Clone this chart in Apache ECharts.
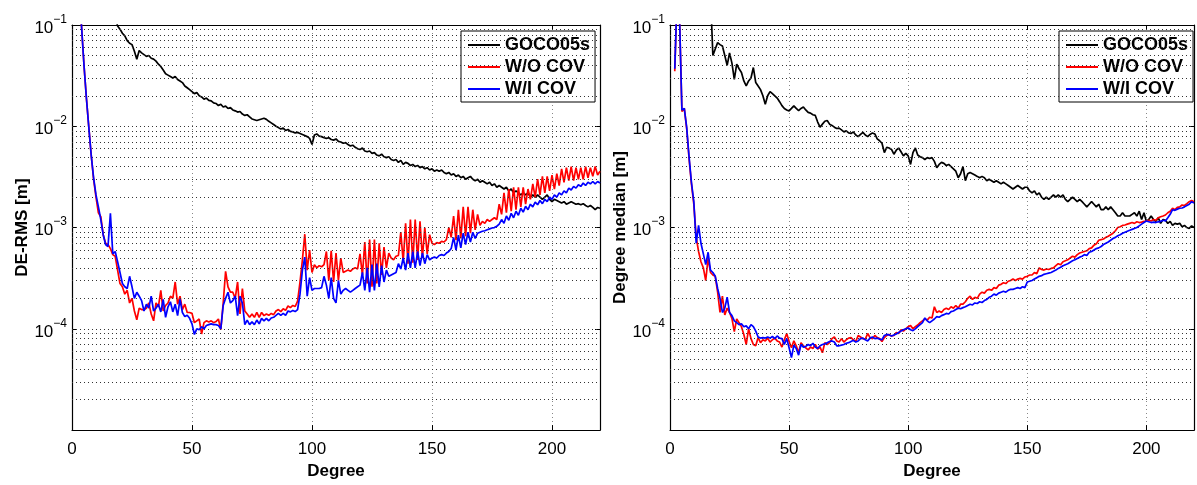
<!DOCTYPE html>
<html><head><meta charset="utf-8">
<script src="https://cdn.jsdelivr.net/npm/echarts@6/dist/echarts.min.js"></script>
<style>html,body{margin:0;padding:0;background:#fff}#c{width:1197px;height:485px}</style>
</head><body><div id="c"></div>
<script>
const FONT = "'Liberation Sans', Arial, Helvetica, sans-serif";
const seriesNames = ['GOCO05s', 'W/O COV', 'W/I COV'];
const seriesColors = ['#000000', '#ff0000', '#0000ff'];
const xTickValues = [0, 50, 100, 150, 200];
const yDecades = [1e-5, 1e-4, 1e-3, 1e-2];
const yMantissas = [1, 2, 3, 4, 5, 6, 7, 8, 9];

// ---- Left panel: DE-RMS [m] ----
const leftBlackStart = 17;
const leftBlack = [
0.16,0.12,0.098,0.091,0.083,0.078,0.070,0.066,0.064,0.055,
0.046,0.056,0.053,0.051,0.049,0.050,0.047,0.046,0.044,0.041,
0.039,0.036,0.033,0.032,0.031,0.030,0.031,0.029,0.028,0.027,
0.025,0.024,0.023,0.022,0.021,0.0215,0.020,0.0195,0.0185,0.019,
0.018,0.0178,0.017,0.0168,0.016,0.0165,0.0155,0.0158,0.015,0.0153,
0.0145,0.0142,0.0138,0.014,0.0132,0.0128,0.013,0.0124,0.0118,0.0116,
0.0114,0.0116,0.0118,0.0120,0.0117,0.0112,0.0108,0.0104,0.0100,0.0097,
0.0094,0.0096,0.0091,0.0093,0.0089,0.0088,0.0086,0.0087,0.0085,0.0083,
0.0081,0.0079,0.0076,0.0066,0.0082,0.0084,0.0080,0.0079,0.0077,0.0076,
0.0077,0.0074,0.0073,0.0075,0.0071,0.0070,0.0068,0.0069,0.0066,0.0064,
0.0065,0.0062,0.0060,0.0059,0.0061,0.0057,0.0056,0.0057,0.0054,0.0055,
0.0052,0.0051,0.0053,0.0050,0.0049,0.0050,0.0047,0.0046,0.0047,0.0044,
0.0046,0.0042,0.0044,0.0043,0.0041,0.0042,0.0040,0.0041,0.0039,0.0040,
0.0038,0.0039,0.0037,0.0038,0.0036,0.0037,0.0036,0.0037,0.0035,0.0034,
0.0035,0.0033,0.0034,0.0032,0.0033,0.0031,0.0032,0.0030,0.0031,0.0032,
0.0030,0.0029,0.0030,0.0028,0.0029,0.0028,0.0027,0.0028,0.0026,0.0027,
0.0025,0.0026,0.0025,0.0024,0.0025,0.0023,0.0024,0.0022,0.0023,0.0022,
0.0021,0.0022,0.0021,0.0022,0.0020,0.0021,0.0020,0.0021,0.0020,0.0019,
0.0020,0.0021,0.0019,0.0018,0.0019,0.00185,0.0018,0.00175,0.0018,0.0017,
0.00175,0.0018,0.00175,0.0017,0.00172,0.00168,0.00172,0.00165,0.0016,0.00165,
0.00158,0.0015,0.00158,0.00155
];
const leftRedStart = 3;
const leftRed = [
0.2,0.095,0.040,0.019,0.0098,0.0052,0.0030,0.0020,
1.4e-3,1.28e-3,8.5e-4,7.0e-4,6.8e-4,6.2e-4,5.4e-4,5.2e-4,3.8e-4,2.8e-4,
2.6e-4,2.2e-4,2.4e-4,1.8e-4,2.0e-4,1.5e-4,1.23e-4,1.6e-4,1.55e-4,1.55e-4,
1.6e-4,1.8e-4,1.4e-4,1.2e-4,1.8e-4,1.65e-4,2.4e-4,1.5e-4,1.7e-4,1.8e-4,
2.1e-4,2.0e-4,2.9e-4,1.75e-4,2.1e-4,1.55e-4,1.75e-4,1.45e-4,1.45e-4,1.42e-4,
1.15e-4,1.2e-4,1.25e-4,8.9e-5,1.15e-4,1.2e-4,1.17e-4,1.2e-4,1.15e-4,1.18e-4,
1.25e-4,9.8e-5,1.8e-4,3.7e-4,2.6e-4,2.3e-4,2.3e-4,2.0e-4,2.9e-4,1.4e-4,
2.5e-4,1.5e-4,1.4e-4,1.3e-4,1.4e-4,1.3e-4,1.45e-4,1.3e-4,1.45e-4,1.35e-4,
1.4e-4,1.36e-4,1.42e-4,1.38e-4,1.5e-4,1.55e-4,1.48e-4,1.58e-4,1.52e-4,1.68e-4,
1.62e-4,1.7e-4,1.66e-4,1.88e-4,2.9e-4,4.8e-4,8.6e-4,3.8e-4,6.0e-4,3.6e-4,
4.3e-4,4.0e-4,4.2e-4,4.1e-4,4.3e-4,5.8e-4,3.0e-4,5.9e-4,2.9e-4,5.6e-4,
3.0e-4,5.0e-4,3.6e-4,3.7e-4,3.8e-4,3.7e-4,3.9e-4,4.0e-4,3.9e-4,5.5e-4,
3.4e-4,7.2e-4,2.8e-4,7.6e-4,2.6e-4,7.6e-4,2.8e-4,7.0e-4,3.4e-4,6.4e-4,
4.0e-4,5.6e-4,5.0e-4,4.8e-4,5.2e-4,5.3e-4,9.0e-4,4.6e-4,1.1e-3,4.4e-4,
1.2e-3,4.5e-4,1.2e-3,4.8e-4,1.15e-3,5.0e-4,1.0e-3,5.5e-4,8.5e-4,7.0e-4,
6.8e-4,7.1e-4,7.0e-4,7.3e-4,7.2e-4,7.6e-4,1.0e-3,8.0e-4,1.3e-3,7.5e-4,
1.5e-3,7.8e-4,1.6e-3,8.2e-4,1.6e-3,8.8e-4,1.5e-3,9.5e-4,1.35e-3,1.05e-3,
1.15e-3,1.1e-3,1.2e-3,1.15e-3,1.2e-3,1.25e-3,1.2e-3,1.7e-3,1.35e-3,2.2e-3,
1.4e-3,2.4e-3,1.45e-3,2.5e-3,1.5e-3,2.5e-3,1.6e-3,2.5e-3,1.7e-3,2.4e-3,
1.9e-3,2.7e-3,2.0e-3,3.0e-3,2.1e-3,3.2e-3,2.2e-3,3.2e-3,2.3e-3,3.3e-3,
2.4e-3,3.4e-3,2.6e-3,3.8e-3,2.8e-3,3.9e-3,2.9e-3,4.0e-3,2.9e-3,3.9e-3,
3.0e-3,3.9e-3,3.0e-3,4.0e-3,3.1e-3,3.9e-3,3.2e-3,4.0e-3,3.3e-3,3.6e-3
];
const leftBlueStart = 3;
const leftBlue = [
0.2,0.095,0.040,0.019,0.0098,0.0052,0.0031,0.0021,
1.6e-3,1.2e-3,8.5e-4,6.8e-4,6.5e-4,1.38e-3,5.5e-4,5.8e-4,4.6e-4,3.6e-4,
2.8e-4,2.6e-4,2.5e-4,3.3e-4,2.6e-4,2.0e-4,2.3e-4,2.1e-4,1.9e-4,1.5e-4,
1.75e-4,1.6e-4,2.1e-4,1.5e-4,1.6e-4,1.75e-4,1.47e-4,1.95e-4,1.3e-4,1.65e-4,
1.85e-4,1.47e-4,1.75e-4,1.35e-4,1.95e-4,1.45e-4,1.32e-4,1.36e-4,1.27e-4,1.12e-4,
8.8e-5,1.0e-4,9.8e-5,1.05e-4,1.0e-4,1.08e-4,1.1e-4,1.12e-4,1.1e-4,1.1e-4,
1.08e-4,1.0e-4,1.7e-4,2.0e-4,2.3e-4,1.8e-4,1.9e-4,2.1e-4,1.35e-4,2.1e-4,
1.8e-4,1.1e-4,1.22e-4,1.1e-4,1.17e-4,1.1e-4,1.22e-4,1.12e-4,1.27e-4,1.2e-4,
1.27e-4,1.2e-4,1.28e-4,1.3e-4,1.36e-4,1.42e-4,1.36e-4,1.42e-4,1.36e-4,1.5e-4,
1.47e-4,1.52e-4,1.48e-4,1.55e-4,2.2e-4,3.8e-4,5.1e-4,2.1e-4,3.2e-4,2.4e-4,
2.5e-4,2.5e-4,2.5e-4,2.55e-4,3.3e-4,2.7e-4,2.0e-4,3.2e-4,2.0e-4,1.8e-4,
3.0e-4,2.2e-4,2.4e-4,2.5e-4,2.4e-4,2.3e-4,2.4e-4,2.5e-4,2.6e-4,2.7e-4,
3.6e-4,2.4e-4,4.0e-4,2.3e-4,4.3e-4,2.4e-4,4.4e-4,2.6e-4,4.2e-4,2.9e-4,
3.8e-4,3.3e-4,3.4e-4,3.5e-4,3.6e-4,4.4e-4,3.9e-4,5.0e-4,3.8e-4,5.6e-4,
4.0e-4,5.8e-4,4.0e-4,5.8e-4,4.2e-4,5.6e-4,4.4e-4,5.4e-4,4.8e-4,5.0e-4,
5.1e-4,5.0e-4,5.3e-4,5.4e-4,5.3e-4,5.6e-4,5.8e-4,6.2e-4,8.0e-4,6.0e-4,
8.4e-4,6.3e-4,8.8e-4,6.8e-4,9.0e-4,7.2e-4,9.0e-4,7.8e-4,8.8e-4,9.0e-4,
9.2e-4,9.3e-4,9.5e-4,9.7e-4,9.9e-4,1.0e-3,1.03e-3,1.08e-3,1.2e-3,1.1e-3,
1.3e-3,1.18e-3,1.38e-3,1.25e-3,1.45e-3,1.32e-3,1.55e-3,1.42e-3,1.62e-3,1.5e-3,
1.7e-3,1.6e-3,1.78e-3,1.68e-3,1.85e-3,1.72e-3,1.9e-3,1.8e-3,2.0e-3,1.9e-3,
2.1e-3,2.0e-3,2.2e-3,2.1e-3,2.3e-3,2.2e-3,2.45e-3,2.35e-3,2.55e-3,2.45e-3,
2.65e-3,2.55e-3,2.75e-3,2.6e-3,2.8e-3,2.7e-3,2.85e-3,2.7e-3,2.85e-3,2.75e-3
];

// ---- Right panel: Degree median [m] ----
const rightBlackStart = 16;
const rightBlack = [
0.3,0.2,0.050,0.058,0.067,0.064,0.062,0.050,0.040,0.053,
0.042,0.029,0.041,0.037,0.034,0.028,0.025,0.028,0.030,0.038,
0.027,0.025,0.023,0.020,0.0165,0.020,0.022,0.021,0.020,0.019,
0.0175,0.016,0.015,0.0145,0.0142,0.015,0.0159,0.015,0.0143,0.015,
0.0155,0.0145,0.0137,0.0135,0.013,0.0128,0.011,0.0098,0.0105,0.0112,
0.0114,0.0105,0.0102,0.0098,0.0095,0.0096,0.0092,0.0088,0.0090,0.0086,
0.0085,0.0088,0.0082,0.0079,0.0083,0.0087,0.0082,0.0079,0.0083,0.0086,
0.0084,0.0075,0.0072,0.0068,0.0055,0.0062,0.0061,0.0059,0.0053,0.0058,
0.0061,0.0056,0.0051,0.0054,0.0051,0.0042,0.0055,0.0061,0.0052,0.0050,
0.0049,0.0047,0.0049,0.0048,0.0049,0.0045,0.0039,0.0042,0.0044,0.0043,
0.0041,0.0042,0.0040,0.0038,0.0036,0.0031,0.0034,0.0040,0.0029,0.0034,
0.0035,0.0034,0.0033,0.0032,0.0031,0.0032,0.0031,0.0029,0.0030,0.0029,
0.0028,0.0029,0.0028,0.0027,0.0028,0.0027,0.0026,0.0025,0.0024,0.0025,
0.0026,0.0025,0.0024,0.0025,0.0025,0.0023,0.0022,0.0023,0.0021,0.0022,
0.0020,0.0019,0.0020,0.0019,0.0020,0.0021,0.0020,0.0021,0.0020,0.0021,
0.0019,0.0018,0.0019,0.0020,0.0019,0.0018,0.0019,0.0018,0.0017,0.0016,
0.0017,0.0018,0.0017,0.0016,0.0017,0.0015,0.0015,0.0016,0.0015,0.0016,
0.0015,0.0014,0.0013,0.0013,0.0014,0.0013,0.0013,0.0013,0.00135,0.0014,
0.0013,0.00145,0.0012,0.0014,0.00115,0.0012,0.0013,0.0012,0.00115,0.00125,
0.0011,0.0012,0.00118,0.0011,0.00115,0.00105,0.0011,0.00108,0.0011,0.00102,
0.00105,0.001,0.00098,0.00104,0.001
];
const rightRedStart = 2;
const rightRed = [
0.035,0.2,0.12,0.014,0.015,0.0095,0.0048,0.0027,0.0017,
8.0e-4,5.8e-4,4.6e-4,4.0e-4,3.0e-4,5.0e-4,3.6e-4,3.4e-4,3.3e-4,2.3e-4,
1.45e-4,2.1e-4,1.37e-4,1.6e-4,1.45e-4,1.27e-4,9.4e-5,1.25e-4,1.15e-4,1.05e-4,
8.8e-5,7.0e-5,1.0e-4,8.0e-5,7.0e-5,6.8e-5,8.2e-5,7.3e-5,7.8e-5,7.6e-5,
8.1e-5,7.4e-5,7.8e-5,8.1e-5,7.6e-5,7.4e-5,6.6e-5,7.8e-5,9.0e-5,7.5e-5,
6.5e-5,7.6e-5,6.8e-5,5.8e-5,7.3e-5,6.8e-5,6.5e-5,6.2e-5,6.6e-5,6.4e-5,
7.0e-5,6.3e-5,6.6e-5,5.8e-5,7.3e-5,7.0e-5,7.3e-5,8.0e-5,8.3e-5,7.6e-5,
7.4e-5,8.0e-5,7.4e-5,7.8e-5,8.1e-5,8.2e-5,7.8e-5,7.5e-5,8.6e-5,8.3e-5,
8.0e-5,7.9e-5,9.0e-5,8.2e-5,8.0e-5,8.6e-5,8.2e-5,8.0e-5,7.5e-5,8.2e-5,
8.6e-5,8.8e-5,8.5e-5,8.6e-5,9.2e-5,9.0e-5,9.8e-5,9.5e-5,1.0e-4,1.05e-4,
1.08e-4,1.0e-4,1.05e-4,1.09e-4,1.15e-4,1.2e-4,1.25e-4,1.22e-4,1.3e-4,1.28e-4,
1.65e-4,1.45e-4,1.5e-4,1.45e-4,1.55e-4,1.6e-4,1.55e-4,1.65e-4,1.6e-4,1.7e-4,
1.6e-4,1.75e-4,1.75e-4,1.85e-4,2.0e-4,2.1e-4,1.95e-4,2.05e-4,2.0e-4,2.2e-4,
2.3e-4,2.25e-4,2.4e-4,2.45e-4,2.4e-4,2.55e-4,2.5e-4,2.7e-4,2.75e-4,2.85e-4,
2.8e-4,2.95e-4,3.0e-4,3.1e-4,3.0e-4,3.1e-4,3.15e-4,3.1e-4,3.25e-4,3.3e-4,
3.4e-4,3.4e-4,3.6e-4,3.5e-4,4.0e-4,3.85e-4,3.8e-4,3.9e-4,3.85e-4,3.95e-4,
4.0e-4,4.2e-4,4.4e-4,4.3e-4,4.6e-4,4.7e-4,4.8e-4,5.0e-4,5.2e-4,5.1e-4,
5.4e-4,5.6e-4,5.7e-4,5.8e-4,5.9e-4,6.2e-4,6.3e-4,6.7e-4,6.9e-4,7.5e-4,
7.6e-4,7.7e-4,8.0e-4,8.2e-4,8.5e-4,8.8e-4,9.3e-4,1.0e-3,1.02e-3,1.05e-3,
1.06e-3,1.08e-3,1.1e-3,1.12e-3,1.1e-3,1.14e-3,1.12e-3,1.13e-3,1.15e-3,1.16e-3,
1.18e-3,1.16e-3,1.2e-3,1.18e-3,1.25e-3,1.28e-3,1.3e-3,1.33e-3,1.4e-3,1.45e-3,
1.55e-3,1.5e-3,1.58e-3,1.6e-3,1.67e-3,1.65e-3,1.72e-3,1.8e-3,1.85e-3,1.8e-3
];
const rightBlueStart = 2;
const rightBlue = [
0.037,0.2,0.12,0.0145,0.015,0.0098,0.005,0.0028,0.0018,
7.0e-4,1.05e-3,7.0e-4,5.5e-4,4.3e-4,5.7e-4,3.8e-4,3.6e-4,3.3e-4,2.5e-4,
2.0e-4,1.45e-4,1.6e-4,2.05e-4,1.45e-4,1.35e-4,1.2e-4,1.15e-4,1.1e-4,1.12e-4,
1.05e-4,1.07e-4,1.0e-4,1.1e-4,1.05e-4,9.5e-5,8.3e-5,8.1e-5,8.2e-5,8.1e-5,
8.3e-5,8.1e-5,8.4e-5,8.0e-5,8.5e-5,8.1e-5,8.0e-5,7.0e-5,8.0e-5,6.5e-5,
5.2e-5,6.9e-5,6.4e-5,5.5e-5,7.0e-5,6.6e-5,6.7e-5,7.0e-5,6.8e-5,7.2e-5,
6.6e-5,6.4e-5,6.8e-5,7.0e-5,7.1e-5,7.3e-5,7.5e-5,7.6e-5,7.4e-5,6.8e-5,
6.8e-5,6.9e-5,7.0e-5,7.2e-5,7.3e-5,7.5e-5,7.7e-5,7.4e-5,7.6e-5,8.0e-5,
8.1e-5,7.8e-5,7.6e-5,8.1e-5,8.3e-5,8.0e-5,8.1e-5,7.9e-5,7.8e-5,8.6e-5,
8.8e-5,8.7e-5,8.5e-5,8.7e-5,8.9e-5,9.2e-5,9.5e-5,9.8e-5,1.0e-4,1.02e-4,
9.8e-5,9.6e-5,1.0e-4,1.05e-4,1.1e-4,1.15e-4,1.28e-4,1.2e-4,1.15e-4,1.2e-4,
1.25e-4,1.32e-4,1.3e-4,1.35e-4,1.38e-4,1.42e-4,1.4e-4,1.48e-4,1.5e-4,1.55e-4,
1.6e-4,1.58e-4,1.62e-4,1.65e-4,1.7e-4,1.75e-4,1.72e-4,1.8e-4,1.78e-4,1.85e-4,
1.82e-4,1.9e-4,1.95e-4,2.05e-4,2.1e-4,2.2e-4,2.15e-4,2.25e-4,2.3e-4,2.35e-4,
2.3e-4,2.4e-4,2.45e-4,2.45e-4,2.5e-4,2.55e-4,2.5e-4,2.6e-4,2.55e-4,2.9e-4,
2.95e-4,3.0e-4,3.1e-4,3.2e-4,3.3e-4,3.35e-4,3.45e-4,3.5e-4,3.55e-4,3.6e-4,
3.7e-4,3.8e-4,3.95e-4,4.05e-4,4.2e-4,4.3e-4,4.4e-4,4.55e-4,4.7e-4,4.8e-4,
4.95e-4,5.1e-4,5.2e-4,5.4e-4,5.3e-4,5.7e-4,5.8e-4,6.0e-4,6.2e-4,6.3e-4,
6.5e-4,6.8e-4,7.0e-4,7.2e-4,7.5e-4,7.8e-4,8.0e-4,8.3e-4,8.5e-4,8.8e-4,
9.0e-4,9.2e-4,9.4e-4,9.6e-4,9.8e-4,1.0e-3,1.04e-3,1.08e-3,1.12e-3,1.16e-3,
1.14e-3,1.12e-3,1.13e-3,1.12e-3,1.14e-3,1.15e-3,1.18e-3,1.16e-3,1.25e-3,1.35e-3,
1.5e-3,1.48e-3,1.52e-3,1.55e-3,1.56e-3,1.6e-3,1.65e-3,1.7e-3,1.8e-3,1.75e-3
];

const panelTitles = ['DE-RMS [m]', 'Degree median [m]'];
const xAxisTitle = 'Degree';

function pairs(start, arr) { return arr.map((v, i) => [start + i, v]); }

const gridLines = [];
yDecades.forEach(d => yMantissas.forEach(m => { const v = d * m; if (m !== 1 || d !== 1e-5) gridLines.push(v); }));

const chart = echarts.init(document.getElementById('c'), null, { renderer: 'canvas' });

const grids = [
  { left: 72, top: 25, width: 528, height: 416 },
  { left: 670, top: 25, width: 528, height: 416 }
];

const xAxes = [], yAxes = [];
[0, 1].forEach(g => {
  xAxes.push({
    type: 'value', gridIndex: g, min: 0, max: 220, interval: 50, position: 'bottom',
    name: xAxisTitle, nameLocation: 'middle', nameGap: 25,
    nameTextStyle: { fontFamily: FONT, fontSize: 17, fontWeight: 'bold', color: '#000' },
    axisLine: { show: true, onZero: false, lineStyle: { color: '#000', width: 1.2 } },
    axisTick: { show: true, inside: true, length: 5, lineStyle: { color: '#000' } },
    axisLabel: { fontFamily: FONT, fontSize: 17, color: '#000', margin: 11,
      formatter: v => (xTickValues.indexOf(v) >= 0 ? String(v) : '') },
    splitLine: { show: true, lineStyle: { color: '#888', type: [1, 3], width: 1 } }
  });
});
[0, 1].forEach(g => {
  xAxes.push({
    type: 'value', gridIndex: g, min: 0, max: 220, interval: 50, position: 'top',
    axisLine: { show: true, onZero: false, lineStyle: { color: '#000', width: 1.2 } },
    axisTick: { show: true, inside: true, length: 5, lineStyle: { color: '#000' } },
    axisLabel: { show: false }, splitLine: { show: false }
  });
});
[0, 1].forEach(g => {
  yAxes.push({
    type: 'log', logBase: 10, gridIndex: g, min: 1e-5, max: 1e-1, splitNumber: 4, position: 'left',
    name: panelTitles[g], nameLocation: 'middle', nameGap: 41, nameRotate: 90,
    nameTextStyle: { fontFamily: FONT, fontSize: 17, fontWeight: 'bold', color: '#000' },
    axisLine: { show: true, onZero: false, lineStyle: { color: '#000', width: 1.2 } },
    axisTick: { show: true, inside: true, length: 5, lineStyle: { color: '#000' } },
    axisLabel: {
      margin: 5, fontFamily: FONT, color: '#000',
      formatter: v => {
        const e = Math.round(Math.log10(v));
        if (e === -5) return '';
        return '{b|10}{s|\u2212' + (-e) + '}';
      },
      rich: {
        b: { fontFamily: FONT, fontSize: 17, color: '#000', verticalAlign: 'bottom' },
        s: { fontFamily: FONT, fontSize: 12, color: '#000', verticalAlign: 'bottom', padding: [0, 0, 11, 0] }
      }
    },
    splitLine: { show: false }
  });
});
[0, 1].forEach(g => {
  yAxes.push({
    type: 'log', logBase: 10, gridIndex: g, min: 1e-5, max: 1e-1, splitNumber: 4, position: 'right',
    axisLine: { show: true, onZero: false, lineStyle: { color: '#000', width: 1.2 } },
    axisTick: { show: true, inside: true, length: 5, lineStyle: { color: '#000' } },
    axisLabel: { show: false }, splitLine: { show: false }
  });
});

const panelData = [
  [pairs(leftBlackStart, leftBlack), pairs(leftRedStart, leftRed), pairs(leftBlueStart, leftBlue)],
  [pairs(rightBlackStart, rightBlack), pairs(rightRedStart, rightRed), pairs(rightBlueStart, rightBlue)]
];

const series = [];
[0, 1].forEach(g => {
  panelData[g].forEach((d, k) => {
    const s = {
      name: seriesNames[k], type: 'line', xAxisIndex: g, yAxisIndex: g, data: d,
      showSymbol: false, symbol: 'none', clip: true, animation: false,
      color: seriesColors[k],
      lineStyle: { color: seriesColors[k], width: 1.7 },
      z: 3 + k
    };
    if (k === 0) {
      s.markLine = {
        silent: true, symbol: ['none', 'none'], animation: false, precision: 12,
        label: { show: false },
        lineStyle: { color: '#333', type: [1, 3], width: 1 },
        emphasis: { disabled: true },
        data: gridLines.map(v => ({ yAxis: v }))
      };
    }
    series.push(s);
  });
});

const legendBase = {
  orient: 'vertical', top: 31, icon: 'rect', itemWidth: 32, itemHeight: 2, itemGap: 2,
  backgroundColor: '#fff', borderColor: '#000', borderWidth: 1, borderRadius: 0,
  padding: [4, 5, 3, 7], selectedMode: false, data: seriesNames,
  textStyle: { fontFamily: FONT, fontSize: 18, fontWeight: 'bold', color: '#000', lineHeight: 20 }
};

chart.setOption({
  backgroundColor: '#fff',
  animation: false,
  grid: grids,
  xAxis: xAxes,
  yAxis: yAxes,
  legend: [Object.assign({}, legendBase, { left: 461 }), Object.assign({}, legendBase, { left: 1059 })],
  series: series
});
</script></body></html>
